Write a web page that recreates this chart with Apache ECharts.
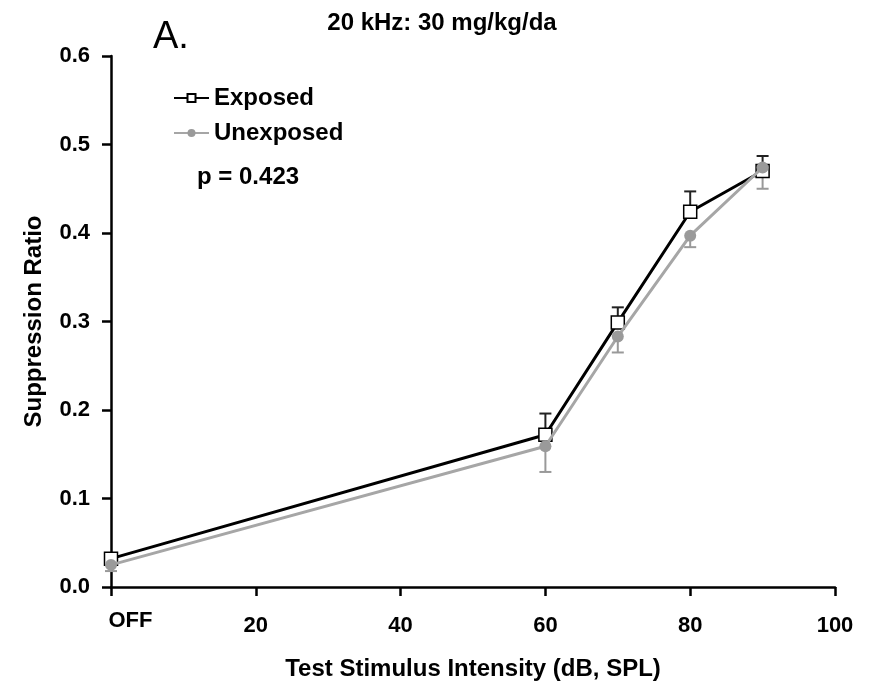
<!DOCTYPE html>
<html><head><meta charset="utf-8">
<script src="https://cdn.jsdelivr.net/npm/echarts@6/dist/echarts.min.js"></script>
<style>html,body{margin:0;padding:0;background:#fff}#c{width:870px;height:688px}</style>
</head><body><div id="c"></div>
<script>
const xValues = [0, 60, 70, 80, 90];
const exposed = [0.032, 0.172, 0.299, 0.424, 0.470];
const exposedErr = [0.005, 0.024, 0.017, 0.023, 0.017];
const unexposed = [0.025, 0.159, 0.283, 0.397, 0.474];
const unexposedErr = [0.007, 0.029, 0.018, 0.013, 0.024];

const FONT = '"Liberation Sans", Arial, sans-serif';
const chart = echarts.init(document.getElementById('c'));

function errSeries(name, ys, errs, dir, color) {
  return {
    type: 'custom', name: name + ' err', silent: true, z: 1,
    data: xValues.map((x, i) => [x, ys[i], dir * errs[i]]),
    renderItem(params, api) {
      const x = api.value(0), y = api.value(1), e = api.value(2);
      const p0 = api.coord([x, y]), p1 = api.coord([x, y + e]);
      const st = { stroke: color, lineWidth: 2 };
      return { type: 'group', children: [
        { type: 'line', shape: { x1: p0[0], y1: p0[1], x2: p1[0], y2: p1[1] }, style: st },
        { type: 'line', shape: { x1: p1[0] - 6, y1: p1[1], x2: p1[0] + 6, y2: p1[1] }, style: st }
      ]};
    }
  };
}

chart.setOption({
  animation: false,
  title: [
    { text: '20 kHz: 30 mg/kg/da', left: 437, top: 6, textAlign: 'center',
      textStyle: { fontFamily: FONT, fontWeight: 'bold', fontSize: 24, color: '#000' } },
    { text: 'A.', left: 148, top: 14,
      textStyle: { fontFamily: FONT, fontWeight: 'normal', fontSize: 38, color: '#000' } }
  ],
  legend: {
    orient: 'vertical', left: 173, top: 86, padding: 0, itemGap: 11, itemWidth: 35, itemHeight: 10,
    textStyle: { fontFamily: FONT, fontWeight: 'bold', fontSize: 24, color: '#000' },
    data: ['Exposed', 'Unexposed']
  },
  graphic: [
    { type: 'text', left: 197, top: 165,
      style: { text: 'p = 0.423', font: 'bold 24px ' + FONT, fill: '#000' } }
  ],
  grid: { left: 111, right: 35, top: 56, bottom: 101, containLabel: false },
  xAxis: {
    type: 'value', min: 0, max: 100, interval: 20,
    name: 'Test Stimulus Intensity (dB, SPL)', nameLocation: 'middle', nameGap: 70,
    nameTextStyle: { fontFamily: FONT, fontWeight: 'bold', fontSize: 24, color: '#000' },
    axisLine: { lineStyle: { color: '#000', width: 2.5 } },
    axisTick: { length: 9, lineStyle: { color: '#000', width: 2.5 } },
    splitLine: { show: false },
    axisLabel: {
      margin: 23, color: '#000', fontFamily: FONT, fontWeight: 'bold', fontSize: 22,
      formatter: v => v === 0 ? '{off|OFF}' : '{num|' + v + '}',
      rich: {
        off: { fontFamily: FONT, fontWeight: 'bold', fontSize: 22, color: '#000', padding: [0, 0, 0, 39] },
        num: { fontFamily: FONT, fontWeight: 'bold', fontSize: 22, color: '#000', padding: [5, 0, 0, 0] }
      }
    }
  },
  yAxis: {
    type: 'value', min: 0, max: 0.6, interval: 0.1,
    name: 'Suppression Ratio', nameLocation: 'middle', nameGap: 65, nameRotate: 90,
    nameTextStyle: { fontFamily: FONT, fontWeight: 'bold', fontSize: 24, color: '#000' },
    axisLine: { show: true, lineStyle: { color: '#000', width: 2.5 } },
    axisTick: { show: true, length: 9, lineStyle: { color: '#000', width: 2.5 } },
    splitLine: { show: false },
    axisLabel: { margin: 21, color: '#000', fontFamily: FONT, fontWeight: 'bold', fontSize: 22,
      formatter: v => v.toFixed(1) }
  },
  series: [
    errSeries('Exposed', exposed, exposedErr, 1, '#222'),
    errSeries('Unexposed', unexposed, unexposedErr, -1, '#999'),
    {
      name: 'Exposed', type: 'line', z: 3,
      data: xValues.map((x, i) => [x, exposed[i]]),
      lineStyle: { color: '#000', width: 3 },
      symbol: 'rect', symbolSize: 13,
      itemStyle: { color: '#fff', borderColor: '#000', borderWidth: 1.5 }
    },
    {
      name: 'Unexposed', type: 'line', z: 4,
      data: xValues.map((x, i) => [x, unexposed[i]]),
      lineStyle: { color: '#a6a6a6', width: 3 },
      symbol: 'circle', symbolSize: 12,
      itemStyle: { color: '#9a9a9a', borderColor: '#9a9a9a', borderWidth: 0 }
    }
  ]
});
</script></body></html>
